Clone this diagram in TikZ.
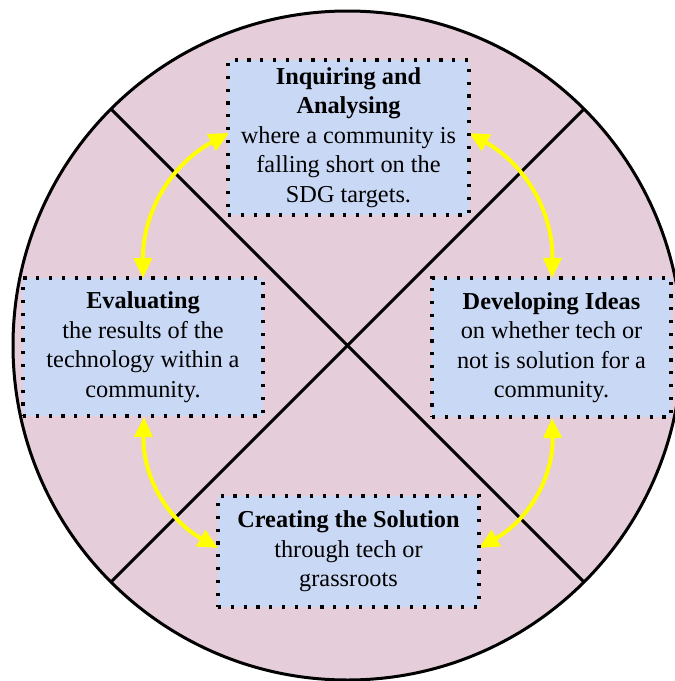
\documentclass[tikz,border=0pt]{standalone}
\usepackage{fontspec}
\setmainfont{Liberation Serif}
\usetikzlibrary{arrows.meta,calc}
\definecolor{pinkbg}{HTML}{E5CDDA}
\definecolor{boxblue}{HTML}{C9D8F4}
\definecolor{arrowyellow}{HTML}{FFFF00}
\begin{document}
\begin{tikzpicture}[x=1pt,y=-1pt,
  stagebox/.style={draw=black, fill=boxblue, line width=3.2pt,
    dash pattern=on 3.2pt off 9.6pt, align=center, inner sep=0pt,
    font=\fontsize{24.3}{29.5}\selectfont},
  cycarrow/.style={draw=arrowyellow, line width=4pt,
    {Triangle[length=20pt,width=18pt,fill=arrowyellow]}-{Triangle[length=20pt,width=18pt,fill=arrowyellow]},
    bend left=31},
  divline/.style={draw=black, line width=3pt}
]
\useasboundingbox (0,0) rectangle (675,681);
\clip (0,0) rectangle (675,681);
\coordinate (c) at (347.5,345.5);
\fill[pinkbg] (c) circle[radius=334.5pt];
\coordinate (tl) at ($(c)+(-236.5,-236.5)$);
\coordinate (br) at ($(c)+(236.5,236.5)$);
\coordinate (tr) at ($(c)+(236.5,-236.5)$);
\coordinate (bl) at ($(c)+(-236.5,236.5)$);
\draw[divline] (tl) -- (br);
\draw[divline] (tr) -- (bl);
\draw[line width=3pt] (c) circle[radius=334.5pt];

% arrow anchor coordinates
\coordinate (a1) at (143,278);
\coordinate (a2) at (229,133);
\coordinate (b1) at (469,133);
\coordinate (b2) at (552,278);
\coordinate (d1) at (552,418);
\coordinate (d2) at (479,548);
\coordinate (e1) at (218,548);
\coordinate (e2) at (144,417);
\draw[cycarrow] (a1) to (a2);
\draw[cycarrow] (b1) to (b2);
\draw[cycarrow] (d1) to (d2);
\draw[cycarrow] (e1) to (e2);

\node[stagebox, minimum width=241pt, minimum height=155pt] (inq) at (348.5,137.5)
  {\textbf{Inquiring and}\\\textbf{Analysing}\\where a community is\\falling short on the\\SDG targets.};
\node[stagebox, minimum width=240pt, minimum height=138pt] (eva) at (143,347)
  {\textbf{Evaluating}\\the results of the\\technology within a\\community.};
\node[stagebox, minimum width=239pt, minimum height=139pt] (dev) at (551.5,347.5)
  {\textbf{Developing Ideas}\\on whether tech or\\not is solution for a\\community.};
\node[stagebox, minimum width=261pt, minimum height=111pt] (cre) at (348.5,551.5)
  {\textbf{Creating the Solution}\\through tech or\\grassroots};
\end{tikzpicture}
\end{document}
